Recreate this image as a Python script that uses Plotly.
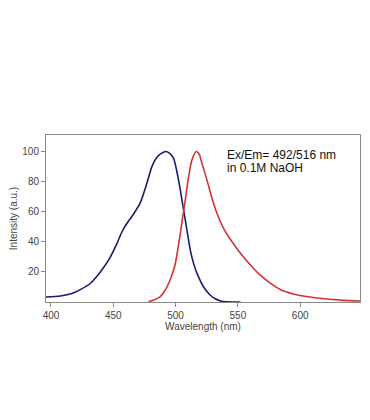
import plotly.graph_objects as go

# Excitation spectrum (blue)
ex_wl = [396, 407.5, 416.8, 423.5, 431.5, 439.6, 446.2, 453, 457, 461, 466.3, 471.7, 477, 481,
         485, 488.5, 492.5, 495.5, 498.4, 502.4, 506, 509.1, 511.8, 514.5, 517.2, 522.5, 527.9,
         531.5, 536, 541, 552]
ex_int = [3.3, 4, 5.6, 8.2, 12.3, 20, 27.8, 39, 46.7, 52.3, 58.5, 66, 79, 90,
          96.2, 98.8, 100, 98.6, 95.5, 81, 63.3, 47.8, 34.5, 25.5, 19, 10, 4.5,
          2.3, 0.7, 0.1, 0]

# Emission spectrum (red)
em_wl = [478.3, 483, 487.7, 491, 494.4, 497.5, 499.8, 503.8, 506, 507.8, 510.4, 513.2, 516.6,
         518.8, 521.2, 525.2, 529.2, 533.2, 538.5, 545.3, 553.3, 562.6, 568, 576, 584, 594.7,
         608, 621.5, 634.8, 648]
em_int = [0.3, 1.5, 3.6, 7, 12.3, 19, 25.6, 45.6, 58, 67.8, 83, 94.5, 100,
          98.5, 92, 81, 69, 59, 49, 40, 31, 22.3, 17.8, 12.5, 8.3, 5.3,
          3.3, 2, 1.1, 0.7]

x_ticks = [400, 450, 500, 550, 600]
y_ticks = [20, 40, 60, 80, 100]
note_lines = ["Ex/Em= 492/516 nm", "in 0.1M NaOH"]

fig = go.Figure()
fig.add_trace(go.Scatter(x=ex_wl, y=ex_int, mode="lines",
                         line=dict(color="#1c1c6b", width=1.6, shape="spline", smoothing=0.7),
                         showlegend=False, hoverinfo="skip"))
fig.add_trace(go.Scatter(x=em_wl, y=em_int, mode="lines",
                         line=dict(color="#d33333", width=1.6, shape="spline", smoothing=0.7),
                         showlegend=False, hoverinfo="skip"))

font_ax = dict(family="Arial, Liberation Sans", size=10, color="#444444")
axis_common = dict(showgrid=False, zeroline=False, showline=True, linecolor="#8a8a8a", linewidth=1,
                   mirror=True, ticks="outside", ticklen=4, tickcolor="#8a8a8a",
                   tickfont=font_ax, automargin=False)

fig.update_xaxes(range=[396, 648], tickvals=x_ticks,
                 title=dict(text="Wavelength (nm)", font=font_ax, standoff=0),
                 **axis_common)
fig.update_yaxes(range=[0, 111], tickvals=y_ticks,
                 title=dict(text="Intensity (a.u.)", font=font_ax, standoff=4),
                 **axis_common)

for txt, yy in zip(note_lines, [0.880, 0.805]):
    fig.add_annotation(x=0.570, y=yy, xref="paper", yref="paper", xanchor="left", yanchor="middle",
                       showarrow=False, text=txt,
                       font=dict(family="Arial, Liberation Sans", size=12, color="#111111"))

# page body adds an 8px margin, so the figure is sized to fill the rest of the 370x420 window
fig.update_layout(width=362, height=404, margin=dict(l=38, r=10, t=127, b=110),
                  paper_bgcolor="white", plot_bgcolor="white")

fig.write_html("out.html")
